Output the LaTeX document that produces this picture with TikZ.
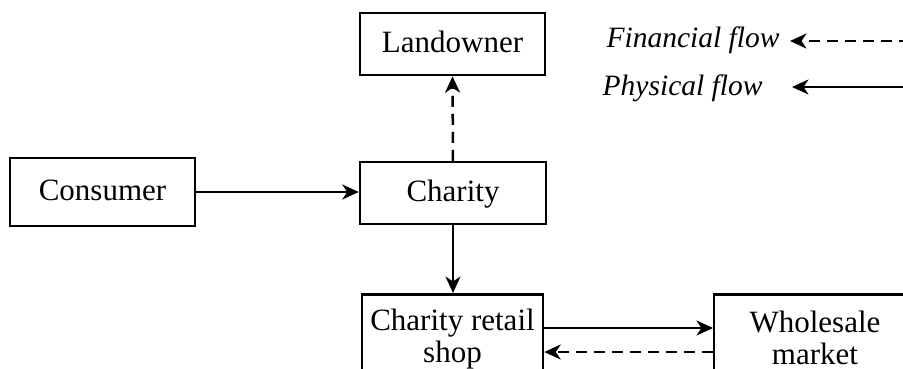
\documentclass[tikz,border=0pt]{standalone}
\usepackage{fontspec}
\setmainfont{Liberation Serif}
\usetikzlibrary{arrows.meta}
\begin{document}
\begin{tikzpicture}[x=0.4pt,y=-0.4pt,
  every node/.style={font=\fontsize{12.4}{12.8}\selectfont},
  box/.style={draw, line width=1pt, inner sep=0pt, text height=0.66em, text depth=0pt},
  frame/.style={draw, line width=1pt, inner sep=0pt},
  txt/.style={inner sep=0pt, align=center},
  legtxt/.style={inner sep=0pt, font=\fontsize{11.8}{12.8}\selectfont\itshape},
  flow/.style={line width=1pt, -{Stealth[length=6.6pt,width=6pt,inset=2pt]}},
  money/.style={flow, dash pattern=on 4.4pt off 2.8pt},
]
\useasboundingbox (0,0) rectangle (903,368);
\fill[white] (0,0) rectangle (903,368);

% main actors
\node[box, minimum width=74pt, minimum height=24.8pt] (land) at (452.5,44) {Landowner};
\node[box, minimum width=74pt, minimum height=27.2pt] (cons) at (102.5,192) {Consumer};
\node[box, minimum width=74.4pt, minimum height=24.8pt] (char) at (453,193) {Charity};

% lower boxes run past the bottom edge
\node[frame, anchor=north, minimum width=72.4pt, minimum height=60pt] (shopbox) at (452.5,293) {};
\node[txt, anchor=north] (shop) at (452.5,308) {Charity retail\\shop};
\node[frame, anchor=north west, minimum width=81.6pt, minimum height=60pt] (wholebox) at (713,293) {};
\node[txt, anchor=north] (whole) at (815,310) {Wholesale\\market};

% flows
\draw[flow] (cons.east) -- (cons.east -| char.west);
\draw[flow] (char.south) -- (char.south |- shopbox.north);
\draw[money] (char.north) -- (land.south);
\draw[flow] ([yshift=-14pt]shopbox.north east) -- ([yshift=-14pt]wholebox.north west);
\draw[money] ([yshift=-23.6pt]wholebox.north west) -- ([yshift=-23.6pt]shopbox.north east);

% legend
\node[legtxt, anchor=base east] (fintxt) at (780,47) {Financial flow};
\node[legtxt, anchor=base east] (phytxt) at (763,95) {Physical flow};
\coordinate (finR) at (910,41);
\coordinate (phyR) at (910,87);
\draw[money, shorten >=4pt] (finR) -- (fintxt.east |- finR);
\draw[flow, shorten >=11.6pt] (phyR) -- (phytxt.east |- phyR);
\end{tikzpicture}
\end{document}
